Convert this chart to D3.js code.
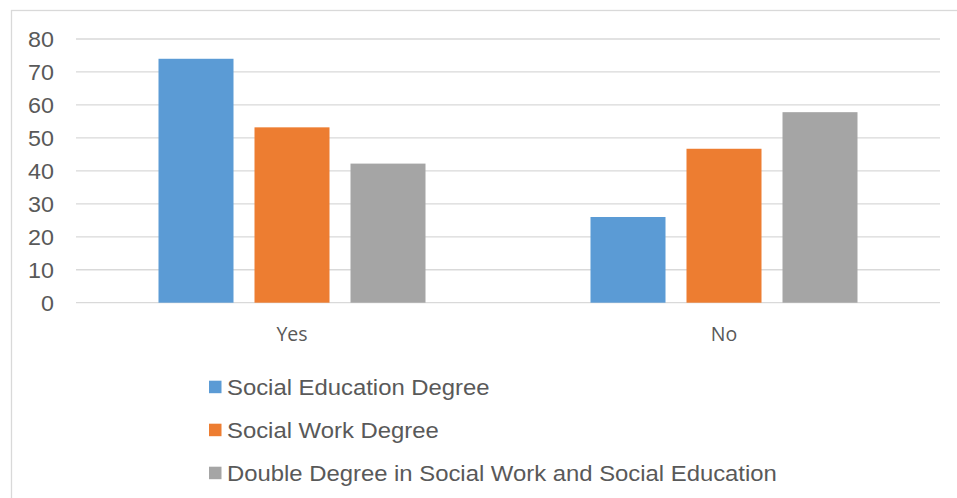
<!DOCTYPE html>
<html>
<head>
<meta charset="utf-8">
<script src="https://cdn.jsdelivr.net/npm/d3@7"></script>
<style>
  body { margin: 0; background: #fff; }
  svg { display: block; font-family: "Liberation Sans", Arial, sans-serif; }
</style>
</head>
<body>
<div id="chart"></div>
<script>
const categories = ["Yes", "No"];
const seriesNames = [
  "Social Education Degree",
  "Social Work Degree",
  "Double Degree in Social Work and Social Education"
];
const seriesValues = [
  [74.0, 26.0],   // Social Education Degree
  [53.2, 46.7],   // Social Work Degree
  [42.2, 57.8]    // Double Degree
];
const yTicks = [0, 10, 20, 30, 40, 50, 60, 70, 80];
const colors = ["#5B9BD5", "#ED7D31", "#A5A5A5"];

const W = 957, H = 498;
const plot = { left: 76, right: 940, top: 39, bottom: 302.7 };

const svg = d3.select("#chart").append("svg")
  .attr("width", W).attr("height", H);

// chart area border
svg.append("rect")
  .attr("x", 11.5).attr("y", 10.5)
  .attr("width", W + 10).attr("height", H + 10)
  .attr("fill", "#fff")
  .attr("stroke", "#D9D9D9").attr("stroke-width", 1.3);

const y = d3.scaleLinear().domain([0, 80]).range([plot.bottom, plot.top]);

const x0 = d3.scaleBand().domain(categories)
  .range([plot.left, plot.right]).padding(0);

// bars span 267 of each 432px group
const groupW = x0.bandwidth();
const barsW = 267;
const x1 = d3.scaleBand().domain(d3.range(seriesNames.length))
  .range([(groupW - barsW) / 2, (groupW + barsW) / 2])
  .paddingInner(21 / 96).paddingOuter(0);

// gridlines
svg.append("g")
  .selectAll("line")
  .data(yTicks)
  .join("line")
  .attr("x1", plot.left).attr("x2", plot.right)
  .attr("y1", (d) => y(d)).attr("y2", (d) => y(d))
  .attr("stroke", "#D9D9D9").attr("stroke-width", 1.3);

// y axis labels (source font is a little wider than Liberation Sans)
svg.append("g")
  .selectAll("text")
  .data(yTicks)
  .join("text")
  .attr("transform", (d) => `translate(54,${y(d)}) scale(1.06,1)`)
  .attr("dy", "0.36em")
  .attr("text-anchor", "end")
  .attr("fill", "#595959")
  .attr("font-size", "22px")
  .text((d) => d);

// bars
const groups = svg.append("g")
  .selectAll("g")
  .data(categories)
  .join("g")
  .attr("transform", (c) => `translate(${x0(c)},0)`);

groups.selectAll("rect")
  .data((c, ci) => seriesValues.map((vals, si) => ({ si, v: vals[ci] })))
  .join("rect")
  .attr("x", (d) => x1(d.si))
  .attr("width", x1.bandwidth())
  .attr("y", (d) => y(d.v))
  .attr("height", (d) => y(0) - y(d.v))
  .attr("fill", (d) => colors[d.si]);

// x labels
svg.append("g")
  .selectAll("text")
  .data(categories)
  .join("text")
  .attr("x", (c) => x0(c) + groupW / 2)
  .attr("y", 334)
  .attr("dy", "0.36em")
  .attr("text-anchor", "middle")
  .attr("fill", "#595959")
  .attr("font-family", "'Open Sans', sans-serif")
  .attr("font-size", "19.5px")
  .text((c) => c);

// legend
const legend = svg.append("g")
  .selectAll("g")
  .data(seriesNames)
  .join("g")
  .attr("transform", (d, i) => `translate(209,${387 + i * 43})`);

legend.append("rect")
  .attr("x", 0).attr("y", -6.3)
  .attr("width", 12.5).attr("height", 12.5)
  .attr("fill", (d, i) => colors[i]);

legend.append("text")
  .attr("transform", "translate(18,0) scale(1.085,1)")
  .attr("dy", "0.36em")
  .attr("fill", "#595959")
  .attr("font-size", "22px")
  .text((d) => d);
</script>
</body>
</html>
